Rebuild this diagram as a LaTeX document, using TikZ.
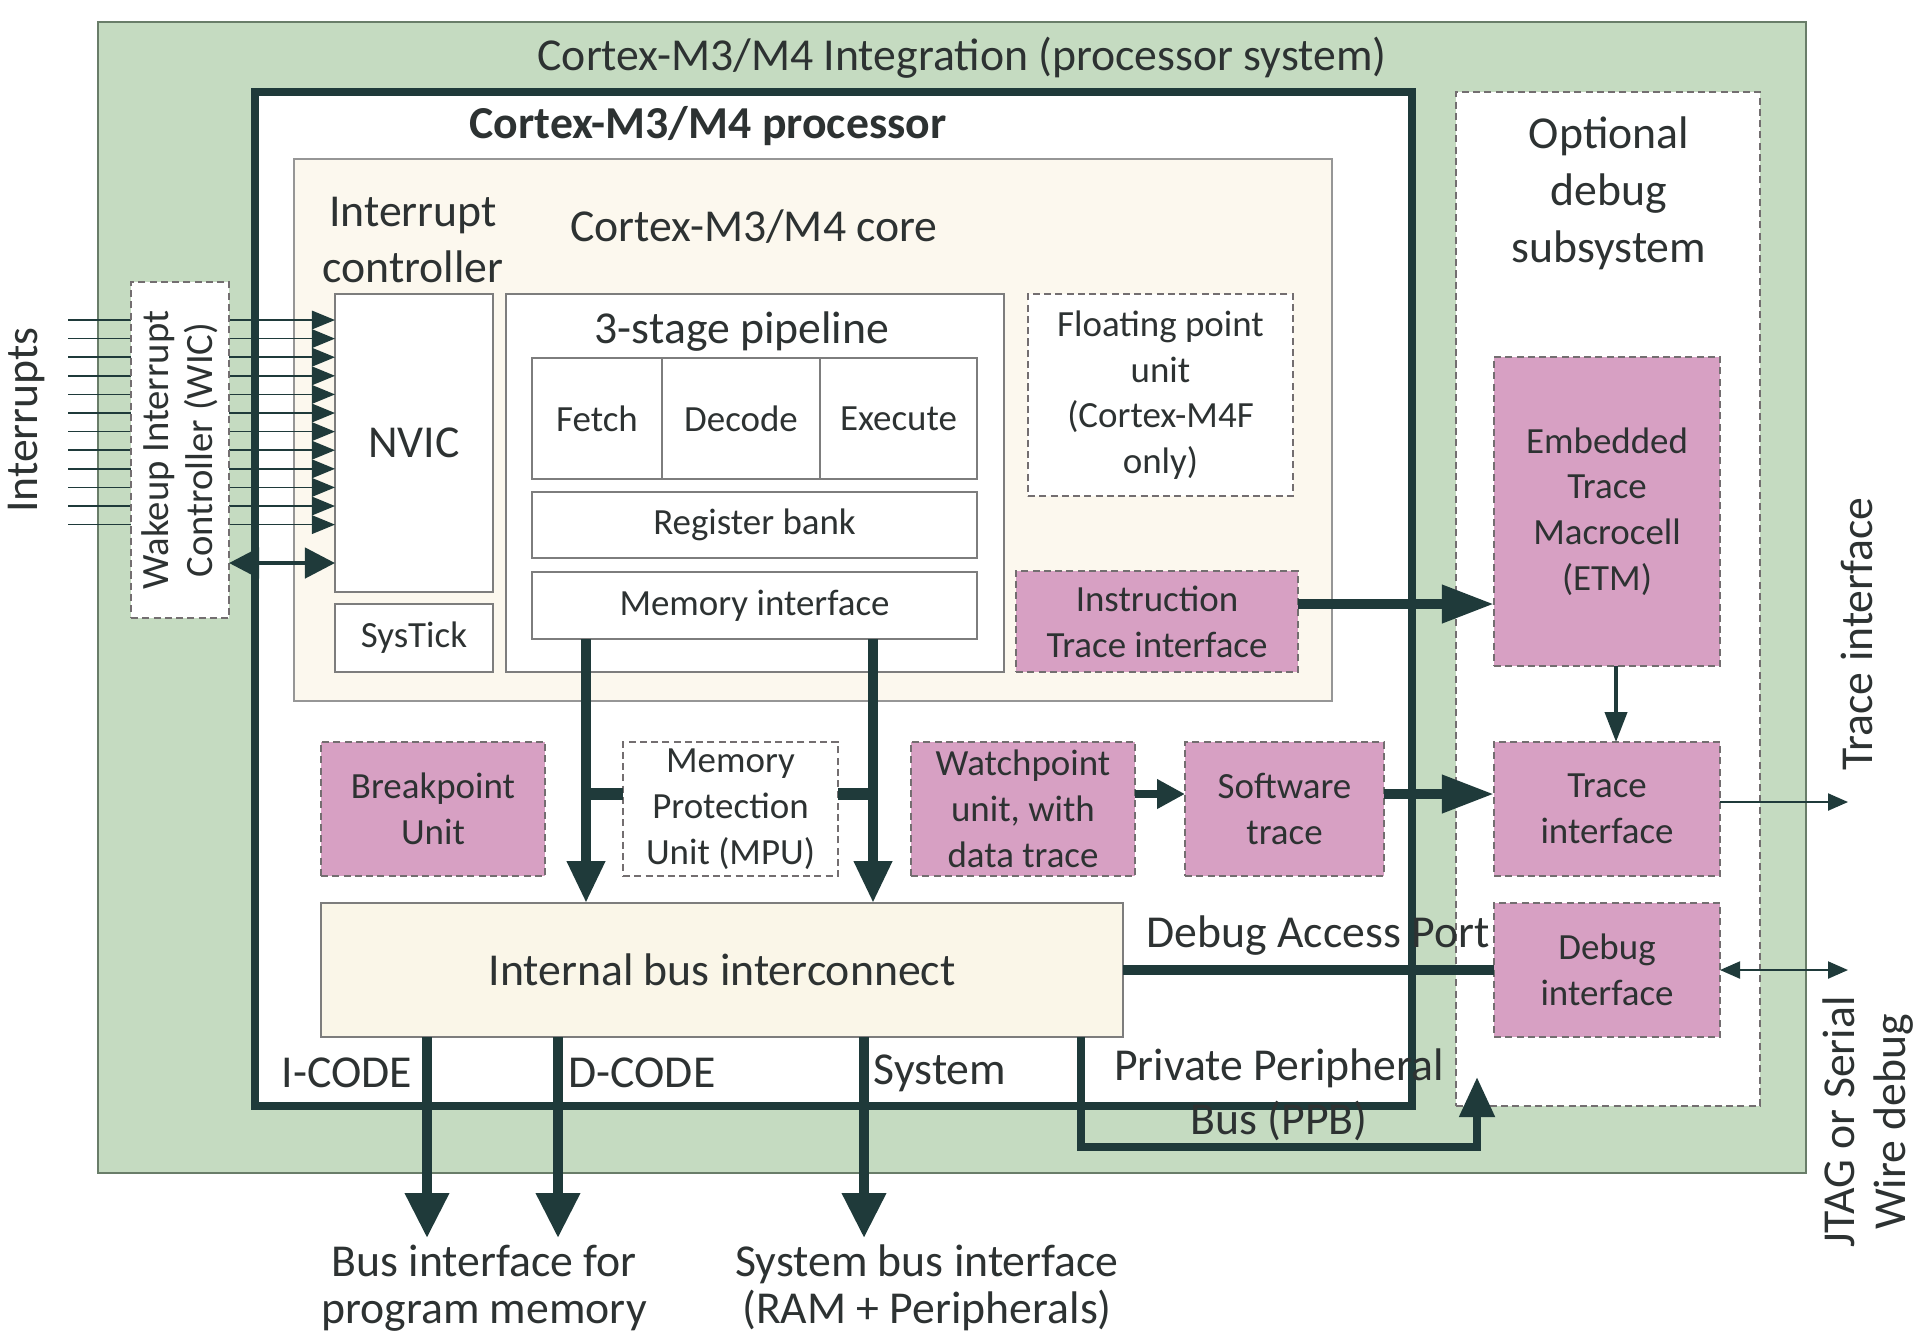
\documentclass[tikz,border=0pt]{standalone}
\usepackage{fontspec}
\setmainfont{Carlito}
\usetikzlibrary{arrows.meta}
\definecolor{grn}{RGB}{197,219,193}
\definecolor{grnb}{RGB}{105,125,105}
\definecolor{pnk}{RGB}{215,160,195}
\definecolor{dk}{RGB}{31,58,58}
\definecolor{txt}{RGB}{45,50,50}
\definecolor{crm}{RGB}{252,248,238}
\definecolor{crmb}{RGB}{250,246,232}
\definecolor{gbord}{RGB}{125,125,125}
\definecolor{lbord}{RGB}{150,150,150}
\definecolor{dbord}{RGB}{115,110,112}
\newcommand{\bx}[7]{%
  \pgfmathsetmacro\bxw{(#4-#2)*0.01}%
  \pgfmathsetmacro\bxh{(#5-#3)*0.01}%
  \node[#6, minimum width=\bxw cm, minimum height=\bxh cm, inner sep=0pt, outer sep=0pt] (#1) at ({(#2+#4)/2},{(#3+#5)/2}) {#7};}
\begin{document}
\begin{tikzpicture}[x=0.01cm,y=-0.01cm,
  big/.style={font=\fontsize{13pt}{15.7pt}\selectfont, text=txt, align=center},
  sml/.style={font=\fontsize{10.5pt}{13pt}\selectfont, text=txt, align=center},
  solidbox/.style={draw=gbord, line width=0.6pt, fill=white},
  pinkbox/.style={draw=dbord, dash pattern=on 2pt off 1.2pt, line width=0.6pt, fill=pnk},
  dashbox/.style={draw=dbord, dash pattern=on 2pt off 1.2pt, line width=0.6pt, fill=white},
  procbox/.style={draw=dk, line width=0.08cm, fill=white},
  intarr/.style={draw=dk, line width=0.45pt, -{Triangle[length=0.23cm,width=0.185cm]}},
  biarr/.style={draw=dk, line width=0.045cm, {Triangle[length=0.3cm,width=0.3cm]}-{Triangle[length=0.3cm,width=0.3cm]}},
  botarr/.style={draw=dk, line width=0.1cm, -{Triangle[length=0.45cm,width=0.42cm]}},
  memarr/.style={draw=dk, line width=0.1cm, -{Triangle[length=0.42cm,width=0.36cm]}},
  trarr/.style={draw=dk, line width=0.1cm, -{Triangle[length=0.52cm,width=0.36cm]}},
  medarr/.style={draw=dk, line width=0.08cm, -{Triangle[length=0.28cm,width=0.28cm]}},
  etmarr/.style={draw=dk, line width=0.04cm, -{Triangle[length=0.3cm,width=0.22cm]}},
  thinarr/.style={draw=dk, line width=0.6pt, -{Triangle[length=0.2cm,width=0.17cm]}},
  thinbi/.style={draw=dk, line width=0.6pt, {Triangle[length=0.2cm,width=0.17cm]}-{Triangle[length=0.2cm,width=0.17cm]}},
  ppbarr/.style={draw=dk, line width=0.08cm, -{Triangle[length=0.4cm,width=0.34cm]}},
  fatline/.style={draw=dk, line width=0.1cm},
  stub/.style={draw=dk, line width=0.12cm}]
\useasboundingbox (0,0) rectangle (1922,1338);
% containers
\bx{sys}{98}{22}{1806}{1173}{draw=grnb, line width=0.8pt, fill=grn}{}
\bx{proc}{255}{92}{1412}{1106}{procbox}{}
\bx{dbg}{1456}{92}{1760}{1106}{dashbox}{}
\bx{core}{294}{159}{1332}{701}{draw=lbord, line width=0.7pt, fill=crm}{}
% core contents
\bx{nvic}{335}{294}{493}{592}{solidbox,big}{NVIC}
\bx{systick}{335}{604}{493}{672}{solidbox,sml}{SysTick}
\bx{pipe}{506}{294}{1004}{672}{solidbox}{}
\bx{fetch}{532}{358}{662}{479}{solidbox,sml}{Fetch}
\bx{decode}{662}{358}{820}{479}{solidbox,sml}{Decode}
\bx{exec}{820}{358}{977}{479}{solidbox,sml}{Execute}
\bx{reg}{532}{492}{977}{558}{solidbox,sml}{Register bank}
\bx{memif}{532}{572}{977}{639}{solidbox,sml}{Memory interface}
\bx{fpu}{1028}{294}{1293}{496}{dashbox,sml}{Floating point\\unit\\(Cortex-M4F\\only)}
\bx{iti}{1016}{571}{1298}{672}{pinkbox,sml}{Instruction\\Trace interface}
% middle row
\bx{bkpt}{321}{742}{545}{876}{pinkbox,sml}{Breakpoint\\Unit}
\bx{mpu}{623}{742}{838}{876}{dashbox,sml}{Memory\\Protection\\Unit (MPU)}
\bx{wpt}{911}{742}{1135}{876}{pinkbox,sml}{Watchpoint\\unit, with\\data trace}
\bx{swt}{1185}{742}{1384}{876}{pinkbox,sml}{Software\\trace}
\bx{bus}{321}{903}{1123}{1037}{draw=gbord, line width=0.8pt, fill=crmb, big}{Internal bus interconnect}
% debug subsystem
\bx{etm}{1494}{357}{1720}{666}{pinkbox,sml}{Embedded\\Trace\\Macrocell\\(ETM)}
\bx{tif}{1494}{742}{1720}{876}{pinkbox,sml}{Trace\\interface}
\bx{dif}{1494}{903}{1720}{1037}{pinkbox,sml}{Debug\\interface}
% interrupt lines
\foreach \i in {0,...,11}{
  \pgfmathsetmacro\yy{320+\i*18.6}
  \coordinate (iy) at (68,\yy);
  \draw[intarr] (iy) -- (nvic.west |- iy);
}
\bx{wic}{131}{282}{229}{618}{dashbox}{}
\node[font=\fontsize{11pt}{12.4pt}\selectfont, text=txt, align=center, rotate=90] (wict) at (wic.center) {Wakeup Interrupt\\Controller (WIC)};
\coordinate (wy) at (0,563);
\draw[biarr] (wic.east |- wy) -- (nvic.west |- wy);
% memory interface arrows
\coordinate (xa) at (586,0);
\coordinate (xb) at (873,0);
\draw[memarr] (memif.south -| xa) -- (bus.north -| xa);
\draw[memarr] (memif.south -| xb) -- (bus.north -| xb);
\coordinate (ym) at (0,794);
\draw[stub] (mpu.west |- ym) -- (xa |- ym);
\draw[stub] (mpu.east |- ym) -- (xb |- ym);
% trace arrows
\coordinate (yi) at (0,604);
\draw[trarr] (iti.east |- yi) -- (etm.west |- yi);
\draw[medarr] (wpt.east |- ym) -- (swt.west |- ym);
\draw[trarr] (swt.east |- ym) -- (tif.west |- ym);
\coordinate (xe) at (1616,0);
\draw[etmarr] (etm.south -| xe) -- (tif.north -| xe);
\coordinate (tro) at (1848,802);
\draw[thinarr] (tif.east |- tro) -- (tro);
\coordinate (jo) at (1848,970);
\draw[thinbi] (dif.east) -- (jo);
\draw[fatline] (bus.east) -- (dif.west);
% bottom buses
\coordinate (ic) at (427,1238);
\coordinate (dc) at (558,1238);
\coordinate (sc) at (864,1238);
\draw[botarr] (bus.south -| ic) -- (ic);
\draw[botarr] (bus.south -| dc) -- (dc);
\draw[botarr] (bus.south -| sc) -- (sc);
\coordinate (ppA) at (1081,1147);
\coordinate (ppT) at (1477,1077);
\draw[ppbarr] (bus.south -| ppA) -- (ppA) -| (ppT);
% labels
\node[big] (title) at (962,58) {Cortex-M3/M4 Integration (processor system)};
\node[big, font=\fontsize{13pt}{15.7pt}\selectfont\bfseries] (proct) at (708,126) {Cortex-M3/M4 processor};
\node[big] (ict) at (413,240) {Interrupt\\controller};
\node[big] (coret) at (754,227) {Cortex-M3/M4 core};
\node[big] (pipet) at (742,332) {3-stage pipeline};
\node[big, font=\fontsize{13pt}{16.2pt}\selectfont] (dbgt) at (1609,193) {Optional\\debug\\subsystem};
\node[big, rotate=90] (intr) at (27,420) {Interrupts};
\node[big, rotate=90] (trl) at (1857,634) {Trace interface};
\node[big, font=\fontsize{13pt}{14.6pt}\selectfont, rotate=90] (jtag) at (1868,1122) {JTAG or Serial\\Wire debug};
\node[big] (dap) at (1318,936) {Debug Access Port};
\node[big] (icl) at (347,1073) {I-CODE};
\node[big] (dcl) at (642,1073) {D-CODE};
\node[big] (scl) at (940,1073) {System};
\node[big, font=\fontsize{13pt}{15.3pt}\selectfont] (ppb) at (1279,1095) {Private Peripheral\\Bus (PPB)};
\node[big, font=\fontsize{13pt}{13.4pt}\selectfont] (bpm) at (484,1288) {Bus interface for\\program memory};
\node[big, font=\fontsize{13pt}{13.4pt}\selectfont] (sbi) at (927,1288) {System bus interface\\(RAM + Peripherals)};
\end{tikzpicture}
\end{document}
